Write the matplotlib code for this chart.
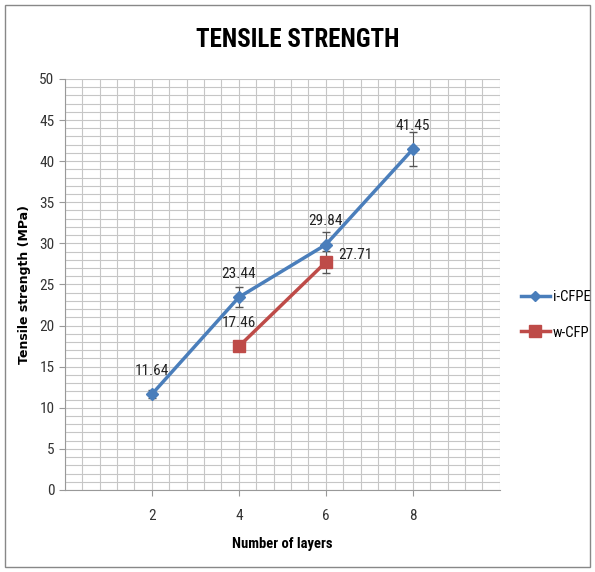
import numpy as np
import matplotlib.pyplot as plt
from matplotlib.patches import Rectangle
from matplotlib.lines import Line2D

# data
layers_i = [2, 4, 6, 8]
strength_i = [11.64, 23.44, 29.84, 41.45]
err_i = [0.5, 1.2, 1.5, 2.1]

layers_w = [4, 6]
strength_w = [17.46, 27.71]
err_w = [0.5, 1.3]

blue = '#4a7ebb'
red = '#be4b48'
font = 'Roboto Condensed'

fig = plt.figure(figsize=(5.95, 5.72), dpi=100)
ax = fig.add_axes([0.109, 0.1434, 0.731, 0.7186])

# gridlines: major + minor
ax.set_xlim(0, 10)
ax.set_ylim(0, 50)
ax.set_xticks(np.arange(0, 10.01, 0.4), minor=True)
ax.set_yticks(np.arange(0, 51, 1), minor=True)
ax.set_xticks([2, 4, 6, 8])
ax.set_yticks(np.arange(0, 51, 5))
ax.grid(True, which='both', color='#c6c6c6', linewidth=0.8)
ax.set_axisbelow(True)
ax.tick_params(which='minor', length=0)
ax.tick_params(which='major', length=4, color='#999999', labelsize=11)
for lab in ax.get_xticklabels() + ax.get_yticklabels():
    lab.set_fontfamily(font)
    lab.set_color('#333333')
for s in ['top', 'right']:
    ax.spines[s].set_visible(False)
for s in ['left', 'bottom']:
    ax.spines[s].set_color('#999999')
ax.tick_params(axis='x', pad=10)

ax.errorbar(layers_i, strength_i, yerr=err_i, color=blue, marker='D', markersize=6,
            linewidth=2.5, ecolor='#555555', elinewidth=0.8, capsize=3, zorder=3)
ax.errorbar(layers_w, strength_w, yerr=err_w, color=red, marker='s', markersize=9,
            linewidth=2.5, ecolor='#555555', elinewidth=0.8, capsize=3, zorder=3)

# data labels
for x, y in zip(layers_i, strength_i):
    ax.annotate(f'{y:.2f}', (x, y), xytext=(0, 12), textcoords='offset points',
                ha='center', va='bottom', fontsize=11, family=font, color='#222222')
ax.annotate(f'{strength_w[0]:.2f}', (layers_w[0], strength_w[0]), xytext=(0, 12),
            textcoords='offset points', ha='center', va='bottom', fontsize=11, family=font, color='#222222')
ax.annotate(f'{strength_w[1]:.2f}', (layers_w[1], strength_w[1]), xytext=(9, 0),
            textcoords='offset points', ha='left', va='bottom', fontsize=11, family=font, color='#222222')

ax.set_ylabel('Tensile strength (MPa)', fontsize=9, fontweight='bold', labelpad=6)
ax.set_xlabel('Number of layers', fontsize=10.5, fontweight='bold', family=font, labelpad=10)
fig.text(0.5, 0.93, 'TENSILE STRENGTH', ha='center', va='center', fontsize=18,
         fontweight='bold', family=font)

handles = [Line2D([], [], color=blue, marker='D', markersize=5, linewidth=2.5),
           Line2D([], [], color=red, marker='s', markersize=8, linewidth=2.5)]
fig.legend(handles, ['i-CFPE', 'w-CFP'], loc='center left', bbox_to_anchor=(0.865, 0.45),
           frameon=False, prop={'family': font, 'size': 10.5}, handlelength=2.0,
           handletextpad=0.2, labelspacing=1.5, borderaxespad=0)

# outer frame
fig.patches.append(Rectangle((0.008, 0.008), 0.984, 0.984, transform=fig.transFigure,
                             fill=False, edgecolor='#888888', linewidth=1.0))

fig.savefig('out.png', dpi=100)
